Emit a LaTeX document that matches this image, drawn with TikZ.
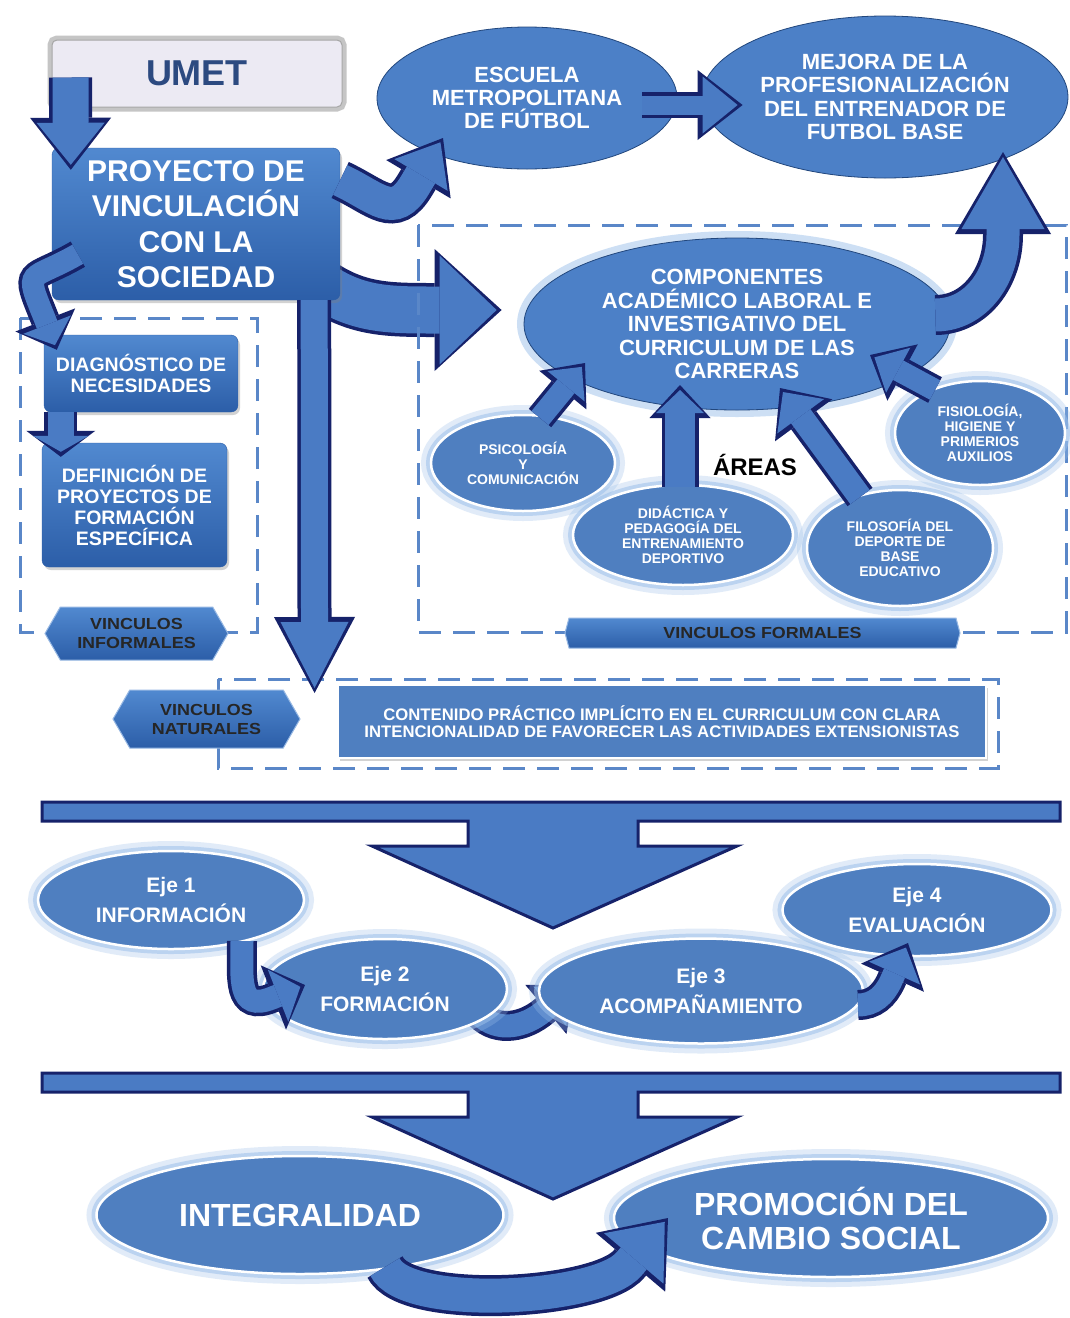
\documentclass[tikz,border=0pt]{standalone}
\usepackage{fontspec}
\setmainfont{Liberation Sans}
\newfontfamily\widefont[FakeStretch=1.12]{Liberation Sans}
\usetikzlibrary{shapes.geometric,shapes.symbols,arrows.meta,shadows}
\definecolor{navy}{HTML}{16226A}
\definecolor{ablue}{HTML}{4A7BC4}
\definecolor{boxtop}{HTML}{5189D0}
\definecolor{boxbot}{HTML}{2C5EA8}
\definecolor{ellin}{HTML}{4C80C7}
\definecolor{ellout}{HTML}{2A599C}
\definecolor{flatblue}{HTML}{4F7FC0}
\definecolor{dashblue}{HTML}{5A87C8}
\definecolor{glow}{HTML}{9CC0EA}
\definecolor{lavender}{HTML}{ECEAF3}
\definecolor{umettext}{HTML}{2C4A80}
\pgfdeclarelayer{bg}
\pgfsetlayers{bg,main}
\pgfdeclareradialshading{ellshade}{\pgfpoint{0bp}{0bp}}{color(0bp)=(ellin); color(30bp)=(ellin); color(50bp)=(ellout)}

\newcommand{\bararrow}[1] % top of the bar, px from the top
{
	\draw[navy, line width=3pt, fill=ablue, line join=miter]
	(42,-#1) -- (1060,-#1) -- (1060,-#1-19) -- (638,-#1-19) -- (638,-#1-44)
	-- (737,-#1-44) -- (553,-#1-126) -- (372,-#1-44) -- (468,-#1-44)
	-- (468,-#1-19) -- (42,-#1-19) -- cycle;
}

\begin{document}
\begin{tikzpicture}[x=1pt, y=1pt,
	barrow/.style n args={3}{
		/utils/exec={\pgfmathsetmacro\bwo{#1+7}\pgfmathsetmacro\hlo{#2+10}\pgfmathsetmacro\hwo{#3+13}},
		preaction={draw=navy, line width=\bwo pt, shorten >=0pt,
			-{Triangle[length=\hlo pt, width=\hwo pt, line width=0pt]}},
		draw=ablue, line width=#1pt, shorten >=5pt,
		-{Triangle[length=#2pt, width=#3pt, line width=0pt]}},
	ell/.style={ellipse, inner sep=0pt, align=center, text=white},
	topell/.style={ell, shade, shading=ellshade, draw=ellout!80!black, line width=.8pt},
	glowell/.style={ell, fill=flatblue, draw=white, line width=2.5pt,
		preaction={draw=glow, line width=20pt, draw opacity=.3},
		preaction={draw=glow, line width=10pt, draw opacity=.55}},
	smallell/.style={glowell, font=\fontsize{14}{15}\selectfont\bfseries},
	ejeell/.style={glowell, font=\fontsize{21}{30}\selectfont\bfseries},
	bluebox/.style={rectangle, rounded corners=7pt, top color=boxtop, bottom color=boxbot,
		draw=boxbot, text=white, align=center, inner sep=0pt,
		drop shadow={opacity=.35, shadow xshift=2pt, shadow yshift=-3pt}},
	vlabel/.style={signal, signal to=east and west, signal pointer angle=120,
		top color=boxtop, bottom color=boxbot, draw=boxtop!60, line width=1pt,
		inner sep=0pt, align=center, text=black!85,
		font=\widefont\fontsize{16}{19}\selectfont\bfseries},
	dbox/.style={draw=dashblue, line width=3pt, dash pattern=on 22pt off 12pt}]

	\begin{pgfonlayer}{bg}
		\fill[white] (0,0) rectangle (1070,-1318);
	\end{pgfonlayer}
	\useasboundingbox (0,0) rectangle (1070,-1318);

	% dashed frames
	\draw[dbox] (20,-318) rectangle (257,-632);
	\draw[dbox] (418,-225) rectangle (1066,-632);
	\draw[dbox] (218,-679) rectangle (998,-768);

	% top part
	\node[rectangle, rounded corners=5pt, minimum width=290pt, minimum height=67pt,
		fill=lavender, draw=gray!70, line width=1pt,
		preaction={draw=gray, line width=9pt, draw opacity=.45},
		font=\fontsize{36}{40}\selectfont\bfseries, text=umettext] (umet) at (197,-73.5) {UMET};
	\node[bluebox, minimum width=288pt, minimum height=152pt,
		font=\fontsize{30}{35.5}\selectfont\bfseries] (proyecto) at (196,-224)
		{PROYECTO DE\\VINCULACIÓN\\CON LA\\SOCIEDAD};
	\node[topell, minimum width=300pt, minimum height=142pt,
		font=\fontsize{22}{23}\selectfont\bfseries] (escuela) at (527,-98)
		{ESCUELA\\METROPOLITANA\\DE FÚTBOL};
	\node[topell, minimum width=366pt, minimum height=162pt,
		font=\fontsize{22}{23.5}\selectfont\bfseries] (mejora) at (885,-97)
		{MEJORA DE LA\\PROFESIONALIZACIÓN\\DEL ENTRENADOR DE\\FUTBOL BASE};
	\node[topell, minimum width=426pt, minimum height=172pt,
		preaction={draw=glow, line width=14pt, draw opacity=.5},
		font=\fontsize{22}{23.5}\selectfont\bfseries] (componentes) at (737,-324)
		{COMPONENTES\\ACADÉMICO LABORAL E\\INVESTIGATIVO DEL\\CURRICULUM DE LAS\\CARRERAS};

	% areas
	\node[smallell, minimum width=184pt, minimum height=96pt] (psico) at (523,-463)
		{PSICOLOGÍA\\Y\\COMUNICACIÓN};
	\node[smallell, minimum width=220pt, minimum height=100pt] (didactica) at (683,-535)
		{DIDÁCTICA Y\\PEDAGOGÍA DEL\\ENTRENAMIENTO\\DEPORTIVO};
	\node[smallell, minimum width=186pt, minimum height=116pt] (filosofia) at (900,-548)
		{FILOSOFÍA DEL\\DEPORTE DE\\BASE\\EDUCATIVO};
	\node[smallell, minimum width=170pt, minimum height=104pt] (fisiologia) at (980,-433)
		{FISIOLOGÍA,\\HIGIENE Y\\PRIMERIOS\\AUXILIOS};
	\node[font=\fontsize{24}{26}\selectfont\bfseries] (areas) at (755,-465) {ÁREAS};

	% informal links
	\node[bluebox, minimum width=194pt, minimum height=77pt,
		font=\fontsize{19.5}{21}\selectfont\bfseries] (diag) at (141,-373.5)
		{DIAGNÓSTICO DE\\NECESIDADES};
	\node[bluebox, minimum width=185pt, minimum height=124pt,
		font=\fontsize{19.5}{21}\selectfont\bfseries] (defin) at (134.5,-505)
		{DEFINICIÓN DE\\PROYECTOS DE\\FORMACIÓN\\ESPECÍFICA};
	\node[vlabel, minimum width=183pt, minimum height=53pt] (vinf) at (136.5,-633.5)
		{VINCULOS\\INFORMALES};
	\node[vlabel, minimum width=187pt, minimum height=58pt] (vnat) at (206.5,-719)
		{VINCULOS\\NATURALES};
	\node[vlabel, minimum width=395pt, minimum height=30pt, signal pointer angle=150]
		(vform) at (762.5,-633) {VINCULOS FORMALES};
	\node[rectangle, fill=flatblue, draw=white, line width=1.5pt,
		drop shadow={opacity=.35, shadow xshift=2pt, shadow yshift=-3pt},
		minimum width=648pt, minimum height=73pt, text=white, align=center,
		font=\fontsize{16.7}{17}\selectfont\bfseries] (contenido) at (662,-721.5)
		{CONTENIDO PRÁCTICO IMPLÍCITO EN EL CURRICULUM CON CLARA\\INTENCIONALIDAD DE FAVORECER LAS ACTIVIDADES EXTENSIONISTAS};

	% axes
	\bararrow{802}
	\node[ejeell, minimum width=266pt, minimum height=98pt] (eje1) at (171,-900) {Eje 1\\INFORMACIÓN};
	\node[ejeell, minimum width=244pt, minimum height=100pt] (eje2) at (385,-989) {Eje 2\\FORMACIÓN};
	\node[ejeell, minimum width=324pt, minimum height=105pt] (eje3) at (701,-991) {Eje 3\\ACOMPAÑAMIENTO};
	\node[ejeell, minimum width=269pt, minimum height=92pt] (eje4) at (917,-910) {Eje 4\\EVALUACIÓN};

	% results
	\bararrow{1073}
	\node[glowell, minimum width=407pt, minimum height=118pt,
		font=\fontsize{32}{34}\selectfont\bfseries] (integ) at (300,-1215) {INTEGRALIDAD};
	\node[glowell, minimum width=434pt, minimum height=118pt,
		font=\fontsize{32}{34}\selectfont\bfseries] (promo) at (831,-1218) {PROMOCIÓN DEL\\CAMBIO SOCIAL};

	% arrows under the nodes
	\begin{pgfonlayer}{bg}
		\draw[barrow={47}{57}{109}] ([shift={(-22,17)}]proyecto.south east) to[out=-35,in=180]
			([shift={(-92,14)}]componentes.west) -- ([shift={(-22,14)}]componentes.west);
		\draw[barrow={23}{28}{51}] ([shift={(95,-26)}]eje2.center) to[out=-45,in=220]
			([shift={(-157,-20)}]eje3.center) -- ([shift={(-126,6)}]eje3.center);
	\end{pgfonlayer}

	% arrows
	\draw[barrow={36}{42}{68}] ([shift={(19,30)}]umet.south west) -- ([shift={(19,-22)}]proyecto.north west);
	\draw[barrow={33}{38}{62}] ([yshift=44pt]proyecto.east) to[out=-25,in=-121,looseness=1.4]
		([shift={(-112,-87)}]escuela.center) -- ([shift={(-84,-40)}]escuela.center);
	\draw[barrow={27}{66}{68}] ([xshift=-26pt]proyecto.south east) -- ([shift={(14,26)}]vnat.east);
	\draw[barrow={22}{22}{51}] ([shift={(26,46)}]proyecto.south west) to[out=-150,in=112,looseness=2]
		([shift={(1,16)}]diag.north west) -- ([shift={(13,-15)}]diag.north west);
	\draw[barrow={26}{16}{56}] ([xshift=17pt]diag.south west) -- ([shift={(19,-14)}]defin.north west);
	\draw[barrow={19}{35}{57}] ([shift={(-35,-7)}]escuela.east) -- ([shift={(41,-8)}]mejora.west);
	\draw[barrow={33}{72}{83}] ([shift={(-15,9)}]componentes.east) to[out=0,in=-90]
		([shift={(118,-138)}]mejora.center) -- ([shift={(118,-55)}]mejora.center);

	\draw[barrow={22}{25}{48}] ([shift={(17,45)}]psico.center) -- ([shift={(-152,-39)}]componentes.center);
	\draw[barrow={30}{23}{48}] ([shift={(-3,48)}]didactica.center) -- ([shift={(-57,-61)}]componentes.center);
	\draw[barrow={24}{30}{58}] ([shift={(-40,51)}]filosofia.center) -- ([shift={(43,-64)}]componentes.center);
	\draw[barrow={22}{27}{51}] ([shift={(-45,43)}]fisiologia.center) -- ([shift={(133,-31)}]componentes.center);

	\draw[barrow={23}{24}{56}] ([shift={(71,-41)}]eje1.center) to[out=-90,in=202,looseness=1.5]
		([shift={(-113,-9)}]eje2.center) -- ([shift={(-80,4)}]eje2.center);
	\draw[barrow={23}{28}{56}] ([shift={(157,-14)}]eje3.center) to[out=0,in=245]
		([shift={(-26,-71)}]eje4.center) -- ([shift={(-9,-33)}]eje4.center);
	\draw[barrow={34}{48}{78}] ([shift={(85,-52)}]integ.center) to[out=-65,in=230,looseness=0.5]
		([shift={(-202,-46)}]promo.center) -- ([shift={(-163,0)}]promo.center);
\end{tikzpicture}
\end{document}
